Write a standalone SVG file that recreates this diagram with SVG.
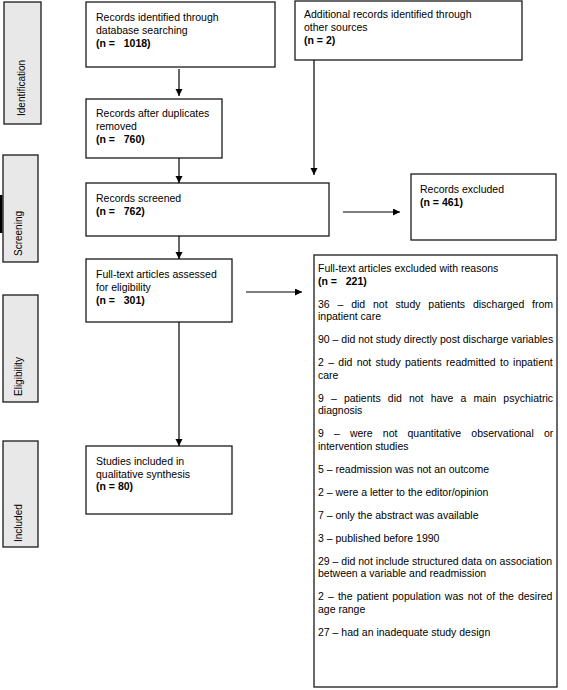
<svg xmlns="http://www.w3.org/2000/svg" width="567" height="690" viewBox="0 0 567 690">
<style>
  .box { fill: #ffffff; stroke: #1a1a1a; stroke-width: 1.3; }
  .lab { fill: #e8e8e8; stroke: #1a1a1a; stroke-width: 1.3; }
  text { font-family: "Liberation Sans", Arial, Helvetica, sans-serif; font-size: 10.5px; fill: #000; }
  .b { font-weight: bold; }
  .lt { font-size: 10px; }
  .con { stroke: #000; stroke-width: 1.2; fill: none; marker-end: url(#ah); }
</style>
<defs>
  <marker id="ah" markerUnits="userSpaceOnUse" markerWidth="8" markerHeight="8" refX="7" refY="3.5" orient="auto">
    <path d="M0,0 L7,3.5 L0,7 Z" fill="#000"/>
  </marker>
</defs>
<rect x="0" y="0" width="567" height="690" fill="#ffffff"/>

<g id="label-identification">
  <rect class="lab" x="4" y="2" width="37" height="122"/>
  <text class="lt" transform="translate(25,116) rotate(-90)">Identification</text>
</g>
<g id="label-screening">
  <rect x="0" y="195" width="2.5" height="38" fill="#000"/>
  <rect class="lab" x="3" y="155" width="35" height="107"/>
  <text class="lt" transform="translate(22,256) rotate(-90)">Screening</text>
</g>
<g id="label-eligibility">
  <rect class="lab" x="3" y="295" width="35" height="107"/>
  <text class="lt" transform="translate(22,396) rotate(-90)">Eligibility</text>
</g>
<g id="label-included">
  <rect class="lab" x="3" y="441" width="35" height="106"/>
  <text class="lt" transform="translate(22,542) rotate(-90)">Included</text>
</g>

<g id="node-db">
  <rect class="box" x="86" y="2" width="189" height="65"/>
  <text x="96" y="21">Records identified through</text>
  <text x="96" y="34">database searching</text>
  <text class="b" x="96" y="47" xml:space="preserve">(n =   1018)</text>
</g>
<g id="node-other">
  <rect class="box" x="295" y="1" width="227" height="59"/>
  <text x="304" y="18">Additional records identified through</text>
  <text x="304" y="31">other sources</text>
  <text class="b" x="304" y="44">(n = 2)</text>
</g>
<g id="node-dedup">
  <rect class="box" x="86" y="99" width="136" height="59"/>
  <text x="96" y="117">Records after duplicates</text>
  <text x="96" y="130">removed</text>
  <text class="b" x="96" y="143" xml:space="preserve">(n =   760)</text>
</g>
<g id="node-screened">
  <rect class="box" x="86" y="183" width="243" height="53"/>
  <text x="96" y="202">Records screened</text>
  <text class="b" x="96" y="215" xml:space="preserve">(n =   762)</text>
</g>
<g id="node-excluded">
  <rect class="box" x="411" y="174" width="145" height="66"/>
  <text x="420" y="193">Records excluded</text>
  <text class="b" x="420" y="206">(n = 461)</text>
</g>
<g id="node-fulltext">
  <rect class="box" x="86" y="259" width="146" height="63"/>
  <text x="96" y="278">Full-text articles assessed</text>
  <text x="96" y="291">for eligibility</text>
  <text class="b" x="96" y="304" xml:space="preserve">(n =   301)</text>
</g>
<g id="node-included">
  <rect class="box" x="86" y="446" width="146" height="68"/>
  <text x="96" y="465">Studies included in</text>
  <text x="96" y="477.5">qualitative synthesis</text>
  <text class="b" x="96" y="490">(n = 80)</text>
</g>
<g id="node-reasons">
  <rect class="box" x="314" y="255" width="243" height="432"/>
  <text x="318" y="272">Full-text articles excluded with reasons</text>
  <text class="b" x="318" y="284.5" xml:space="preserve">(n =   221)</text>
  <text x="318" y="307.5" word-spacing="4.9">36 – did not study patients discharged from</text>
  <text x="318" y="320">inpatient care</text>
  <text x="318" y="343">90 – did not study directly post discharge variables</text>
  <text x="318" y="366" word-spacing="1.4">2 – did not study patients readmitted to inpatient</text>
  <text x="318" y="378.5">care</text>
  <text x="318" y="401.5" word-spacing="4.2">9 – patients did not have a main psychiatric</text>
  <text x="318" y="414">diagnosis</text>
  <text x="318" y="437" word-spacing="7.2">9 – were not quantitative observational or</text>
  <text x="318" y="449.5">intervention studies</text>
  <text x="318" y="472.5">5 – readmission was not an outcome</text>
  <text x="318" y="495.5">2 – were a letter to the editor/opinion</text>
  <text x="318" y="518.5">7 – only the abstract was available</text>
  <text x="318" y="541.5">3 – published before 1990</text>
  <text x="318" y="564.5">29 – did not include structured data on association</text>
  <text x="318" y="577">between a variable and readmission</text>
  <text x="318" y="600" word-spacing="1.2">2 – the patient population was not of the desired</text>
  <text x="318" y="612.5">age range</text>
  <text x="318" y="635.5">27 – had an inadequate study design</text>
</g>

<g id="connectors">
  <line class="con" x1="179" y1="69" x2="179" y2="96"/>
  <line class="con" x1="179" y1="158" x2="179" y2="183"/>
  <line class="con" x1="314" y1="60" x2="314" y2="175"/>
  <line class="con" x1="179" y1="236" x2="179" y2="259"/>
  <line class="con" x1="343" y1="212" x2="400" y2="212"/>
  <line class="con" x1="246" y1="292" x2="302" y2="292"/>
  <line class="con" x1="179" y1="322" x2="179" y2="446"/>
</g>
</svg>
